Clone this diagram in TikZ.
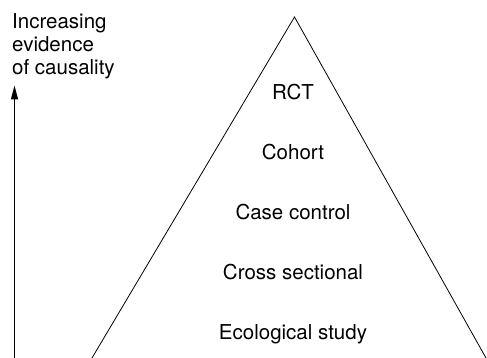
\documentclass[tikz,border=0pt]{standalone}
\usepackage{fontspec}
\setmainfont{TeX Gyre Heros}
\usetikzlibrary{arrows.meta,positioning}

\begin{document}
\begin{tikzpicture}[x=1pt, y=1pt, every node/.style = {inner sep=0pt, font=\fontsize{20.5}{23}\selectfont}, side edge/.style = {-, line width=0.8pt, black}, up arrow/.style = {-{Triangle[length=14pt,width=7pt]}, line width=1.3pt, black}]
\useasboundingbox (0,0) rectangle (487,358);
\coordinate (apex) at (294.5,341);
  \coordinate (left foot)  at (92,0);
  \coordinate (right foot) at (486,0);
  \coordinate (arrow foot) at (14.5,0);
  \coordinate (arrow tip)  at (14.5,272.5);
\node[anchor=base west, align=left] (caption) at (12,283) {Increasing\\ evidence\\ of causality};
\foreach \j/\txt in {0/Ecological study, 1/Cross sectional, 2/Case control, 3/Cohort, 4/RCT}
  { \node[anchor=base] (lvl\j) at (293,{18+60.1*\j}) {\txt}; }
\draw[side edge] (left foot) -- (apex) -- (right foot);
\draw[up arrow] (arrow foot) -- (arrow tip);
\end{tikzpicture}
\end{document}
